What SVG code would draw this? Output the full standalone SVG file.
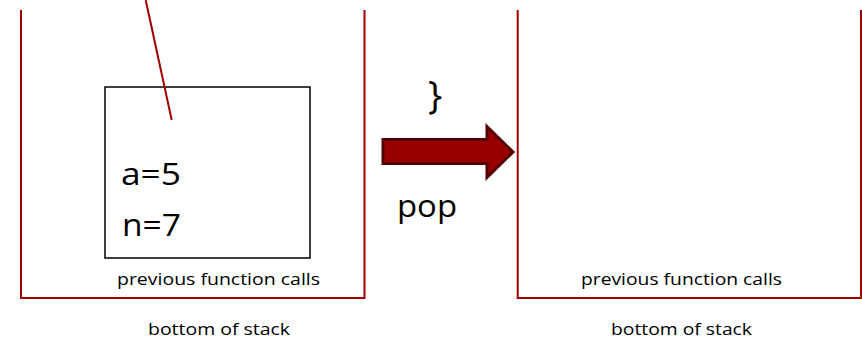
<svg xmlns="http://www.w3.org/2000/svg" width="862" height="339" viewBox="0 0 862 339">
<style>
.stack{fill:none;stroke:#a00000;stroke-width:2}
.t{font-family:"Open Sans","Noto Sans","Liberation Sans",sans-serif;fill:#000}
.big{font-size:31px}
.small{font-size:17px}
</style>
<rect width="862" height="339" fill="#fff"/>
<g id="left-stack">
<polyline class="stack" points="21,10 21,298 364.5,298 364.5,10"/>
<text class="t small" x="117" y="285" textLength="203" lengthAdjust="spacingAndGlyphs">previous function calls</text>
<text class="t small" x="148" y="335" textLength="142" lengthAdjust="spacingAndGlyphs">bottom of stack</text>
</g>
<g id="frame">
<rect x="105" y="87" width="205" height="171" fill="none" stroke="#000" stroke-width="1.5"/>
<text class="t big" x="121" y="185" textLength="60" lengthAdjust="spacingAndGlyphs">a=5</text>
<text class="t big" x="122" y="236" textLength="59" lengthAdjust="spacingAndGlyphs">n=7</text>
</g>
<g id="right-stack">
<polyline class="stack" points="517.7,10 517.7,298 861,298 861,10"/>
<text class="t small" x="581" y="285" textLength="201" lengthAdjust="spacingAndGlyphs">previous function calls</text>
<text class="t small" x="611" y="335" textLength="141" lengthAdjust="spacingAndGlyphs">bottom of stack</text>
</g>
<g id="pop-arrow">
<polygon points="383,139.5 487,139.5 487,126.5 513,152 487,177.5 487,163.5 383,163.5" fill="#990000" stroke="#520000" stroke-width="3" stroke-linejoin="miter"/>
<text class="t" x="428" y="109" font-size="38">}</text>
<text class="t big" x="397" y="217" textLength="60" lengthAdjust="spacingAndGlyphs">pop</text>
</g>
<g id="connectors">
<line x1="145.7" y1="0" x2="171.7" y2="120" stroke="#a00000" stroke-width="2"/>
</g>
</svg>
